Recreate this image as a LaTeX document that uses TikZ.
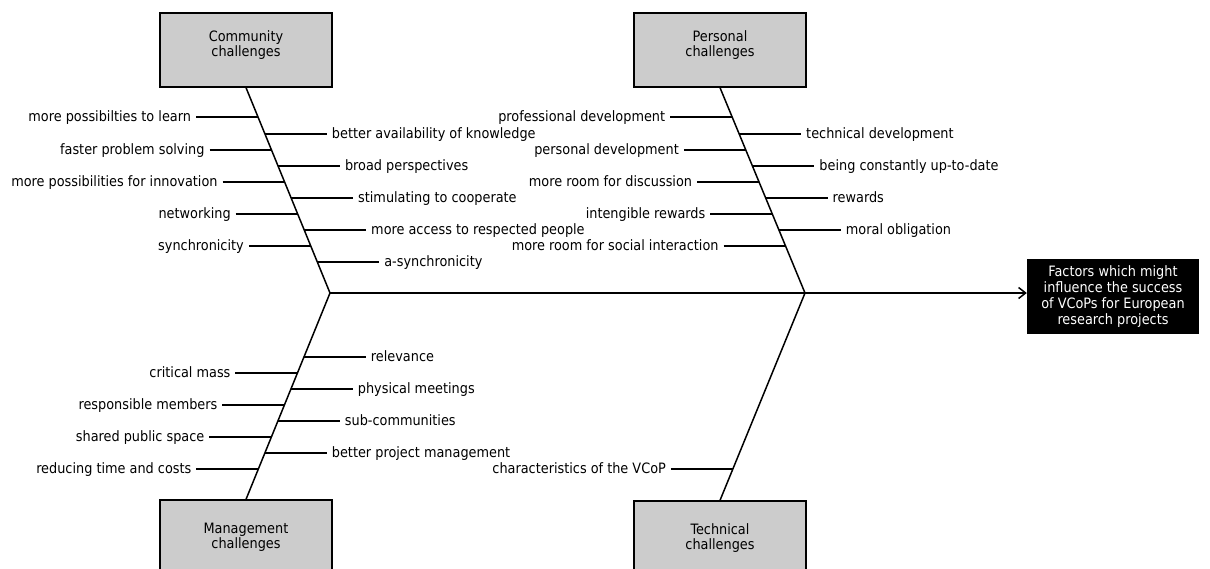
\documentclass[tikz,border=0pt]{standalone}
\usepackage{fontspec}
\setmainfont{DejaVu Sans Condensed}
\usetikzlibrary{arrows.meta,calc}
\definecolor{catgray}{RGB}{204,204,204}
\newcommand\diagfont{\fontsize{14.3}{15.5}\selectfont}
\newcommand\boxfont{\fontsize{14.3}{15}\selectfont}
\newcommand\effectfont{\fontsize{14.3}{16}\selectfont}
\begin{document}
\begin{tikzpicture}[x=1pt,y=-1pt,
  catbox/.style={draw=black,line width=1.3pt,fill=catgray,minimum width=172pt,
    minimum height=74pt,inner sep=0pt,align=center,font=\boxfont},
  effectbox/.style={fill=black,text=white,minimum width=172pt,minimum height=75pt,
    inner sep=0pt,align=center,font=\effectfont},
  lbl/.style={inner xsep=0pt,inner ysep=0pt,outer xsep=5pt,outer ysep=0pt,
    text height=10pt,text depth=0.8pt,font=\diagfont},
  bone/.style={line width=1.5pt},
  rib/.style={line width=1.6pt}]
\useasboundingbox (0,0) rectangle (1210,568);

% category boxes and the effect box
\node[catbox] (comm) at (246,50) {Community\\challenges\\[-3pt]};
\node[catbox] (pers) at (720,50) {Personal\\challenges\\[-3pt]};
\node[catbox] (mgmt) at (246,537) {Management\\challenges};
\node[catbox] (tech) at (720,538) {Technical\\challenges};
\node[effectbox] (effect) at (1113,296.5) {Factors which might\\influence the success\\of VCoPs for European\\research projects};

% junctions on the main bone
\coordinate (jl) at (330,293);
\coordinate (jr) at (805,293);

% bones
\draw[bone] (comm.south) -- (jl) -- (mgmt.north);
\draw[bone] (pers.south) -- (jr) -- (tech.north);
\draw[bone,-{Straight Barb[length=7pt,width=11pt]}] (jl) -- (jr) -- (jr -| effect.west);

% community challenges
\foreach \y/\n/\t in {117/ca/{more possibilties to learn},150/cb/{faster problem solving},
    182/cc/{more possibilities for innovation},214/cd/{networking},246/ce/{synchronicity}}{
  \coordinate (\n s) at (intersection of comm.south--jl and 0,\y--1,\y);
  \node[lbl,anchor=east] (\n) at ($(\n s)+(-62,0)$) {\t};
  \draw[rib] (\n.east) -- (\n s);
}
\foreach \y/\n/\t in {134/cf/{better availability of knowledge},166/cg/{broad perspectives},
    198/ch/{stimulating to cooperate},230/ci/{more access to respected people},262/cj/{a-synchronicity}}{
  \coordinate (\n s) at (intersection of comm.south--jl and 0,\y--1,\y);
  \node[lbl,anchor=west] (\n) at ($(\n s)+(62,0)$) {\t};
  \draw[rib] (\n s) -- (\n.west);
}

% personal challenges
\foreach \y/\n/\t in {117/pa/{professional development},150/pb/{personal development},
    182/pc/{more room for discussion},214/pd/{intengible rewards},246/pe/{more room for social interaction}}{
  \coordinate (\n s) at (intersection of pers.south--jr and 0,\y--1,\y);
  \node[lbl,anchor=east] (\n) at ($(\n s)+(-62,0)$) {\t};
  \draw[rib] (\n.east) -- (\n s);
}
\foreach \y/\n/\t in {134/pf/{technical development},166/pg/{being constantly up-to-date},
    198/ph/{rewards},230/pi/{moral obligation}}{
  \coordinate (\n s) at (intersection of pers.south--jr and 0,\y--1,\y);
  \node[lbl,anchor=west] (\n) at ($(\n s)+(62,0)$) {\t};
  \draw[rib] (\n s) -- (\n.west);
}

% management challenges
\foreach \y/\n/\t in {373/ma/{critical mass},405/mb/{responsible members},
    437/mc/{shared public space},469/md/{reducing time and costs}}{
  \coordinate (\n s) at (intersection of mgmt.north--jl and 0,\y--1,\y);
  \node[lbl,anchor=east] (\n) at ($(\n s)+(-62,0)$) {\t};
  \draw[rib] (\n.east) -- (\n s);
}
\foreach \y/\n/\t in {357/me/{relevance},389/mf/{physical meetings},
    421/mg/{sub-communities},453/mh/{better project management}}{
  \coordinate (\n s) at (intersection of mgmt.north--jl and 0,\y--1,\y);
  \node[lbl,anchor=west] (\n) at ($(\n s)+(62,0)$) {\t};
  \draw[rib] (\n s) -- (\n.west);
}

% technical challenges
\coordinate (tas) at (intersection of tech.north--jr and 0,469--1,469);
\node[lbl,anchor=east] (ta) at ($(tas)+(-62,0)$) {characteristics of the VCoP};
\draw[rib] (ta.east) -- (tas);
\end{tikzpicture}
\end{document}
